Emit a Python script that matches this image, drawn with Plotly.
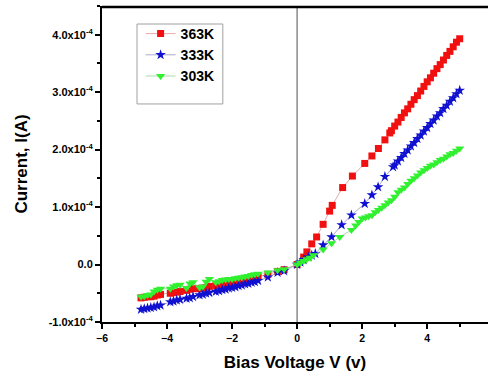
import plotly.graph_objects as go

# ---------------- data (current in units of 1e-4 A) ----------------
v_neg = [-4.8, -4.7, -4.6, -4.5, -4.4, -4.3, -4.2,
         -3.9, -3.8, -3.7, -3.6,
         -3.4, -3.3, -3.2,
         -3.0, -2.9, -2.8, -2.7,
         -2.5, -2.4, -2.3, -2.2, -2.1, -2.0, -1.9, -1.8, -1.7, -1.6, -1.5, -1.4, -1.3, -1.2,
         -0.9, -0.6, -0.4, 0.0]

i363_neg = [-0.58, -0.57, -0.56, -0.56, -0.55, -0.53, -0.52,
            -0.50, -0.49, -0.48, -0.47,
            -0.45, -0.43, -0.42,
            -0.42, -0.41, -0.40, -0.38,
            -0.37, -0.36, -0.35, -0.33, -0.32, -0.31, -0.30, -0.29, -0.27, -0.26, -0.25, -0.24, -0.22, -0.21,
            -0.17, -0.12, -0.09, 0.0]
i333_neg = [-0.78, -0.77, -0.76, -0.75, -0.74, -0.72, -0.71,
            -0.65, -0.64, -0.62, -0.61,
            -0.59, -0.58, -0.56,
            -0.53, -0.52, -0.50, -0.49,
            -0.47, -0.46, -0.44, -0.43, -0.41, -0.40, -0.39, -0.37, -0.36, -0.34, -0.33, -0.31, -0.30, -0.28,
            -0.22, -0.14, -0.11, 0.0]
i303_neg = [-0.56, -0.55, -0.53, -0.52, -0.47, -0.44, -0.42,
            -0.42, -0.38, -0.36, -0.35,
            -0.41, -0.33, -0.31,
            -0.40, -0.38, -0.30, -0.25,
            -0.31, -0.29, -0.27, -0.26, -0.25, -0.25, -0.24, -0.23, -0.22, -0.21, -0.20, -0.18, -0.17, -0.16,
            -0.14, -0.10, -0.08, 0.0]

v363_pos = [0.2, 0.3, 0.45, 0.6, 0.8, 1.0, 1.08, 1.4, 1.7, 2.08, 2.3, 2.5, 2.7, 2.85,
            2.9, 3.0, 3.1, 3.2, 3.3, 3.4, 3.5, 3.6, 3.7, 3.8, 3.9, 4.0,
            4.1, 4.2, 4.3, 4.4, 4.5, 4.6, 4.7, 4.8, 4.9, 5.0]
i363_pos = [0.13, 0.22, 0.36, 0.48, 0.70, 0.93, 1.03, 1.34, 1.54, 1.76, 1.89, 2.02, 2.17, 2.29,
            2.33, 2.41, 2.48, 2.56, 2.64, 2.71, 2.79, 2.87, 2.94, 3.02, 3.10, 3.18,
            3.25, 3.33, 3.41, 3.48, 3.56, 3.64, 3.71, 3.79, 3.87, 3.93]

v333_pos = [0.1, 0.2, 0.35, 0.45, 0.56, 0.8, 1.06, 1.37, 1.67, 2.08, 2.3, 2.49, 2.7, 2.95,
            3.0, 3.1, 3.2, 3.3, 3.4, 3.5, 3.6, 3.7, 3.8, 3.9, 4.0,
            4.1, 4.2, 4.3, 4.4, 4.5, 4.6, 4.7, 4.8, 4.9, 5.0]
i333_pos = [0.04, 0.08, 0.13, 0.16, 0.19, 0.34, 0.48, 0.69, 0.86, 1.06, 1.21, 1.35, 1.53, 1.70,
            1.73, 1.80, 1.86, 1.93, 1.99, 2.06, 2.12, 2.19, 2.25, 2.32, 2.38,
            2.45, 2.51, 2.58, 2.64, 2.71, 2.77, 2.84, 2.90, 2.97, 3.03]

v303_pos = [0.1, 0.2, 0.3, 0.4, 0.5, 0.8, 1.06, 1.31, 1.67,
            1.8, 1.9, 2.0, 2.1, 2.2, 2.3, 2.4, 2.5, 2.6, 2.7, 2.8, 2.9, 3.0,
            3.1, 3.2, 3.3, 3.4, 3.5, 3.6, 3.7, 3.8, 3.9, 4.0,
            4.1, 4.2, 4.3, 4.4, 4.5, 4.6, 4.7, 4.8, 4.9, 5.0]
i303_pos = [0.03, 0.06, 0.09, 0.12, 0.16, 0.26, 0.37, 0.48, 0.60,
            0.68, 0.74, 0.80, 0.82, 0.84, 0.86, 0.91, 0.95, 0.99, 1.03, 1.08, 1.12, 1.18,
            1.26, 1.30, 1.34, 1.40, 1.46, 1.50, 1.55, 1.60, 1.64, 1.68,
            1.72, 1.74, 1.78, 1.82, 1.84, 1.88, 1.92, 1.94, 1.98, 2.02]

series_names = ["363K", "333K", "303K"]
y_tick_vals = [-1e-4, 0.0, 1e-4, 2e-4, 3e-4, 4e-4]
y_tick_text = ["-1.0x10<sup>-4</sup>", "0.0", "1.0x10<sup>-4</sup>", "2.0x10<sup>-4</sup>",
               "3.0x10<sup>-4</sup>", "4.0x10<sup>-4</sup>"]
scale = 1e-4

FONT = "Liberation Sans, Arial, sans-serif"

fig = go.Figure()

def add(name, vx, iy, mcolor, lcolor, symbol, size):
    fig.add_trace(go.Scatter(
        x=vx, y=[v * scale for v in iy], name=name, mode="lines+markers",
        line=dict(color=lcolor, width=1),
        marker=dict(color=mcolor, symbol=symbol, size=size, line=dict(width=0)),
    ))

add(series_names[0], v_neg + v363_pos, i363_neg + i363_pos, "#f01010", "rgba(225,150,150,0.8)", "square", 7)
add(series_names[1], v_neg + v333_pos, i333_neg + i333_pos, "#1010d0", "rgba(150,150,190,0.8)", "star", 8)
add(series_names[2], v_neg + v303_pos, i303_neg + i303_pos, "#30f030", "rgba(150,210,150,0.8)", "triangle-down", 8)

# zero line
fig.add_shape(type="line", xref="x", yref="paper", x0=0, x1=0, y0=0, y1=1,
              line=dict(color="#8a8a8a", width=1.5), layer="below")
# top frame line (pixel-anchored just under the top margin)
fig.add_shape(type="line", xref="paper", yref="paper", x0=0, x1=1, y0=0.997, y1=0.997,
              line=dict(color="black", width=2.5))
# legend frame
fig.add_shape(type="rect", xref="paper", yref="paper", x0=0.0907, x1=0.313, y0=0.69, y1=0.943,
              line=dict(color="#a0a0a0", width=1))

fig.update_layout(
    width=488, height=378,
    margin=dict(l=102, r=0, t=6, b=56, autoexpand=False),
    paper_bgcolor="white", plot_bgcolor="white",
    font=dict(family=FONT, color="black"),
    showlegend=True,
    legend=dict(x=0.1, y=0.962, xanchor="left", yanchor="top",
                font=dict(size=14, family=FONT, weight="bold"),
                bgcolor="rgba(0,0,0,0)", borderwidth=0, itemwidth=30,
                tracegroupgap=0),
    xaxis=dict(
        range=[-6, 5.87], tickmode="linear", tick0=-6, dtick=2, automargin=False,
        showgrid=False, zeroline=False,
        showline=True, linecolor="black", linewidth=2, mirror=False,
        ticks="outside", ticklen=5, tickwidth=1.5, tickcolor="black",
        tickfont=dict(size=10.5, family=FONT, weight="bold"),
        minor=dict(ticks="outside", ticklen=3, tickwidth=1.5, tickcolor="black", tick0=-5, dtick=2),
        title=dict(text="Bias Voltage V (v)", font=dict(size=17, family=FONT, weight="bold"), standoff=14),
    ),
    yaxis=dict(
        range=[-1e-4, 4.5e-4], tickmode="array", tickvals=y_tick_vals, ticktext=y_tick_text,
        automargin=False,
        showgrid=False, zeroline=False,
        showline=True, linecolor="black", linewidth=2, mirror=False,
        ticks="outside", ticklen=5, tickwidth=1.5, tickcolor="black",
        tickfont=dict(size=11, family=FONT, weight="bold"),
        minor=dict(ticks="outside", ticklen=3, tickwidth=1.5, tickcolor="black",
                   tickvals=[-0.5e-4, 0.5e-4, 1.5e-4, 2.5e-4, 3.5e-4, 4.5e-4]),
        title=dict(text="Current, I(A)", font=dict(size=17, family=FONT, weight="bold"), standoff=17),
    ),
)

fig.write_html("out.html", config={"displayModeBar": False},
               post_script="document.body.style.margin='0';document.body.style.overflow='hidden';")
